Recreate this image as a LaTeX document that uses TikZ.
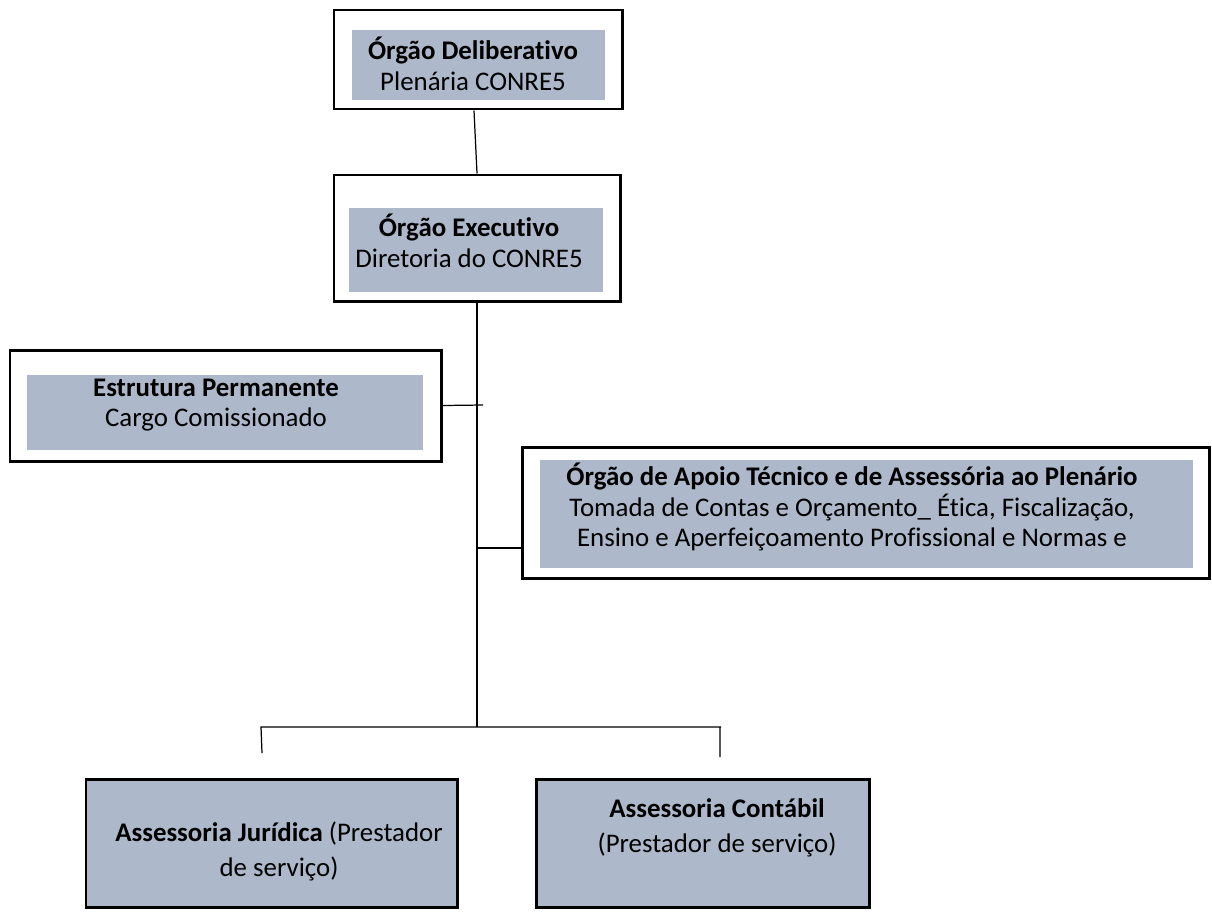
\documentclass[tikz,border=0pt]{standalone}
\usepackage{fontspec}
\setmainfont{Carlito}[Ligatures=NoCommon]
\usetikzlibrary{positioning, fit, calc}

\definecolor{boxgray}{RGB}{173,185,202}

\begin{document}
\begin{tikzpicture}[
    x=0.02cm, y=-0.02cm,
    font=\fontsize{15.3}{17.5}\selectfont,
    outerbox/.style={draw=black, line width=1.7pt, fill=white, inner sep=0pt},
    innerbox/.style={fill=boxgray, inner sep=0pt},
    grayblock/.style={draw=black, line width=1.7pt, fill=boxgray, inner sep=0pt},
    boxtext/.style={align=center, inner sep=0pt},
    link/.style={line width=0.7pt, draw=black}
]
\useasboundingbox (0,0) rectangle (1212,913);

% Orgao deliberativo
\node[outerbox, fit={(334,10) (622,109)}] (delib) {};
\node[innerbox, fit={(352,30) (605,100)}] (delibfill) {};
\node[boxtext] (delibtext) at (473,64) {\textbf{Órgão Deliberativo}\\Plenária CONRE5};

% Orgao executivo
\node[outerbox, fit={(334,175) (620,301)}] (exec) {};
\node[innerbox, fit={(349,208) (603,292)}] (execfill) {};
\node[boxtext] (exectext) at (469,241) {\textbf{Órgão Executivo}\\Diretoria do CONRE5};

% Estrutura permanente
\node[outerbox, fit={(10,350) (441,461)}] (perm) {};
\node[innerbox, fit={(27,375) (423,450)}] (permfill) {};
\node[boxtext] (permtext) at (216,405) {\textbf{Estrutura Permanente}\\Cargo Comissionado};

% Orgao de apoio tecnico
\node[outerbox, fit={(522,447) (1209,578)}] (apoio) {};
\node[innerbox, fit={(540,460) (1193,568)}] (apoiofill) {};
\node[boxtext] (apoiotext) at (852,507)
    {\textbf{Órgão de Apoio Técnico e de Assessória ao Plenário}\\
     Tomada de Contas e Orçamento\_ Ética, Fiscalização,\\
     Ensino e Aperfeiçoamento Profissional e Normas e};

% Assessorias
\node[grayblock, fit={(86,779) (457,907)}] (jurid) {};
\node[boxtext] (juridtext) at (279,851) {\textbf{Assessoria Jurídica} (Prestador\\[2.4pt]de serviço)};
\node[grayblock, fit={(536,779) (869,907)}] (contab) {};
\node[boxtext] (contabtext) at (717,828) {\textbf{Assessoria Contábil}\\[2.4pt](Prestador de serviço)};

% Connectors
\coordinate (bus) at (477,727);
\coordinate (permtip) at (483,405);
\coordinate (apoiojoin) at (477,548);
\coordinate (busL) at (261,727);
\coordinate (busR) at (721,727);
\coordinate (juridtop) at (262,753);
\coordinate (contabtop) at (720,757);

\draw[link] ($(delib.south)+(-4,0)$) -- (exec.north);
\draw[link] (exec.south) -- (bus);
\draw[link] (perm.east) -- (permtip);
\draw[link] (apoiojoin) -- (apoiojoin -| apoio.west);
\draw[link] (juridtop) -- (busL |- bus) -- (busR) -- (busR -| contabtop) -- (contabtop);

\end{tikzpicture}
\end{document}
